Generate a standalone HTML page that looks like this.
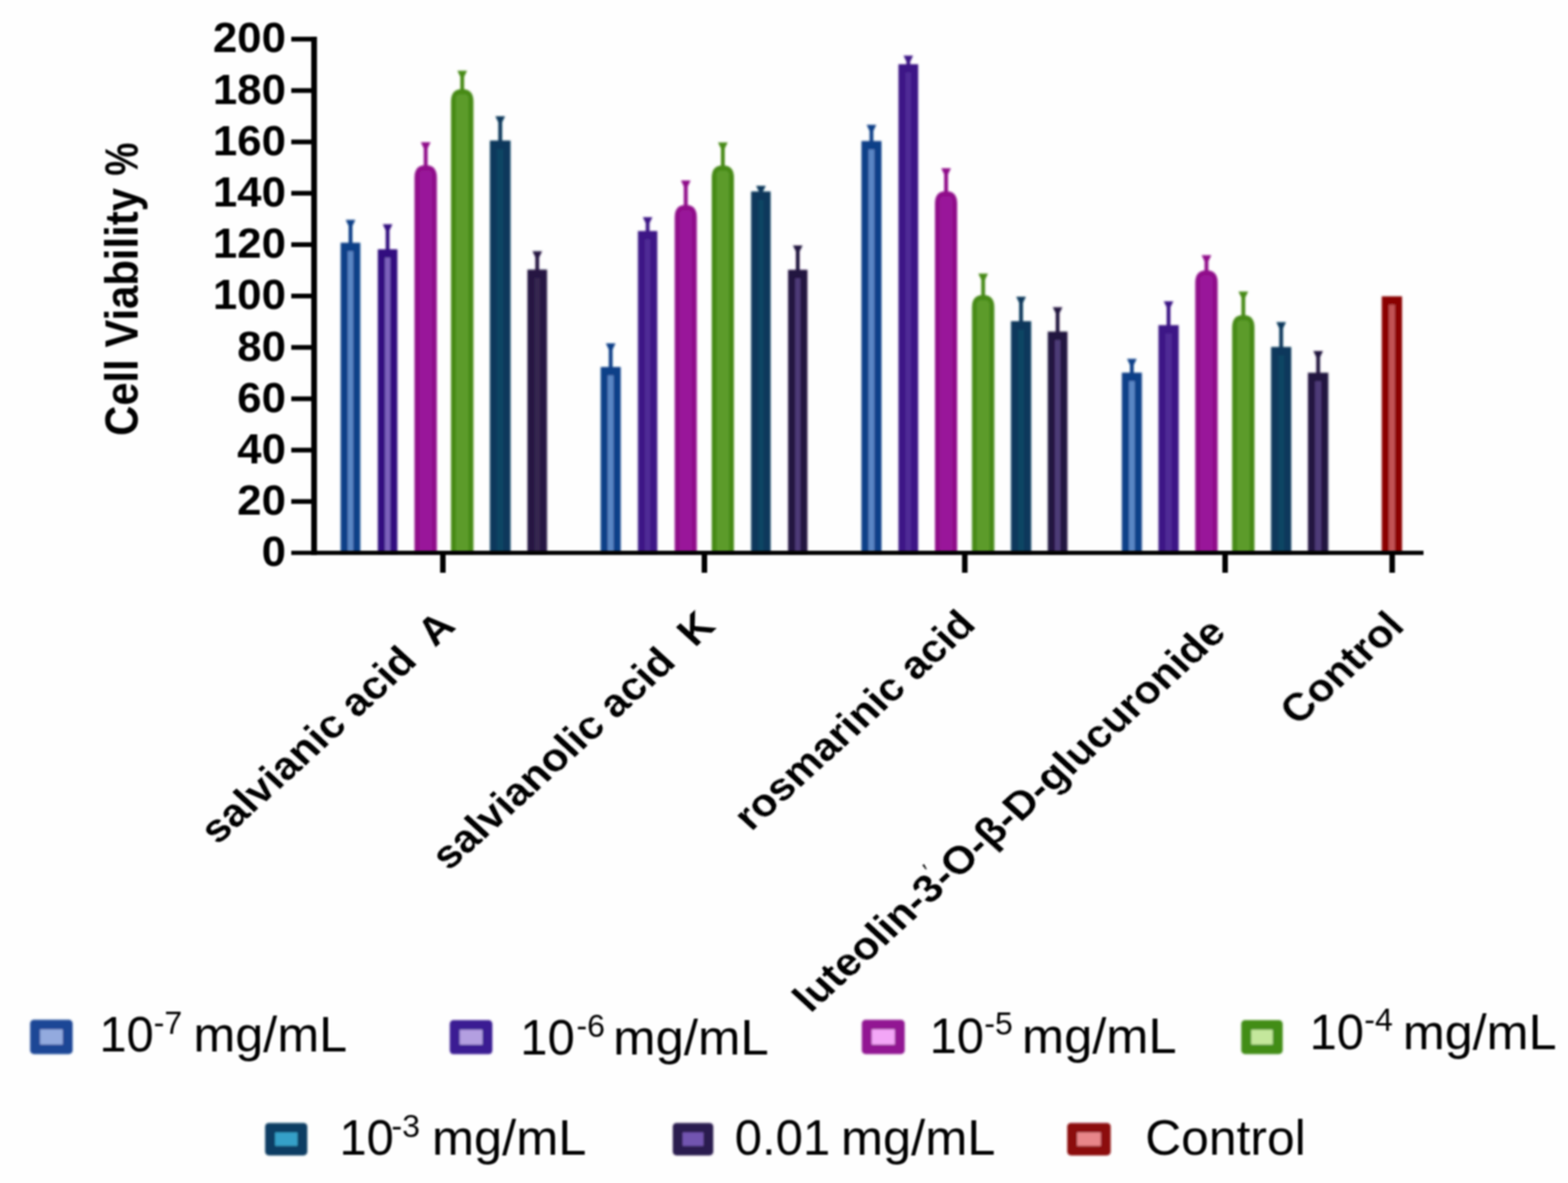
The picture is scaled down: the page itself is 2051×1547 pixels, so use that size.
<!DOCTYPE html>
<html lang="en"><head><meta charset="utf-8"><title>Cell Viability %</title>
<style>html,body{margin:0;padding:0;background:#fff;}body{width:2051px;height:1547px;overflow:hidden;}svg{display:block;}text{font-family:"Liberation Sans",Arial,Helvetica,sans-serif;fill:#000;}.b{font-weight:700;}</style></head><body>
<svg width="2051" height="1547" viewBox="0 0 2051 1547">
<defs><filter id="bl" x="-5%" y="-5%" width="110%" height="110%"><feGaussianBlur stdDeviation="1.55"/></filter><filter id="bt" x="-5%" y="-5%" width="110%" height="110%"><feGaussianBlur stdDeviation="1.25"/></filter></defs>
<rect width="2051" height="1547" fill="#fefefe"/>
<g filter="url(#bl)">
<rect x="456.0" y="290.2" width="5" height="30.2" fill="#0e3f88"/>
<path d="M452.2 287.5 h12.6 l-3.6 7.4 h-5.4 z" fill="#0e3f88"/>
<rect x="445.6" y="317.4" width="25.7" height="405.6" fill="#0e3f88"/>
<rect x="454.9" y="328.4" width="7.1" height="394.6" fill="#5a86c4"/>
<rect x="504.5" y="296.0" width="5" height="33.0" fill="#31107f"/>
<path d="M500.7 293.3 h12.6 l-3.6 7.4 h-5.4 z" fill="#31107f"/>
<rect x="494.2" y="326.0" width="25.6" height="397.0" fill="#31107f"/>
<rect x="503.5" y="337.0" width="7.0" height="386.0" fill="#7d62bc"/>
<rect x="554.3" y="188.8" width="5" height="30.2" fill="#900d8a"/>
<path d="M550.5 186.1 h12.6 l-3.6 7.4 h-5.4 z" fill="#900d8a"/>
<path d="M542.2 723.0 V232.1 Q542.2 216.0 556.8 216.0 Q571.4 216.0 571.4 232.1 V723.0 z" fill="#900d8a"/>
<rect x="548.7" y="223.0" width="16.2" height="500.0" rx="5" fill="#99199a"/>
<rect x="602.1" y="95.2" width="5" height="24.3" fill="#478a13"/>
<path d="M598.3 92.5 h12.6 l-3.6 7.4 h-5.4 z" fill="#478a13"/>
<path d="M589.9 723.0 V132.7 Q589.9 116.5 604.6 116.5 Q619.3 116.5 619.3 132.7 V723.0 z" fill="#478a13"/>
<rect x="596.4" y="123.5" width="16.4" height="599.5" rx="5" fill="#5c9b2c"/>
<rect x="651.8" y="154.7" width="5" height="32.1" fill="#07385b"/>
<path d="M648.0 152.0 h12.6 l-3.6 7.4 h-5.4 z" fill="#07385b"/>
<rect x="640.8" y="183.8" width="27.0" height="539.2" fill="#07385b"/>
<rect x="650.1" y="194.8" width="8.4" height="528.2" fill="#104564"/>
<rect x="700.2" y="331.2" width="5" height="24.3" fill="#261642"/>
<path d="M696.5 328.5 h12.6 l-3.6 7.4 h-5.4 z" fill="#261642"/>
<rect x="689.9" y="352.5" width="25.7" height="370.5" fill="#261642"/>
<rect x="699.2" y="363.5" width="7.1" height="359.5" fill="#34274f"/>
<rect x="796.3" y="451.7" width="5" height="31.2" fill="#0e3f88"/>
<path d="M792.5 449.0 h12.6 l-3.6 7.4 h-5.4 z" fill="#0e3f88"/>
<rect x="785.7" y="479.9" width="26.2" height="243.1" fill="#0e3f88"/>
<rect x="795.0" y="490.9" width="7.6" height="232.1" fill="#5a86c4"/>
<rect x="844.6" y="286.6" width="5" height="18.5" fill="#3d1686"/>
<path d="M840.8 283.9 h12.6 l-3.6 7.4 h-5.4 z" fill="#3d1686"/>
<rect x="834.4" y="302.1" width="25.4" height="420.9" fill="#3d1686"/>
<rect x="843.7" y="313.1" width="6.8" height="409.9" fill="#502c96"/>
<rect x="894.5" y="238.8" width="5" height="32.2" fill="#900d8a"/>
<path d="M890.7 236.1 h12.6 l-3.6 7.4 h-5.4 z" fill="#900d8a"/>
<path d="M882.6 723.0 V283.9 Q882.6 268.0 897.0 268.0 Q911.4 268.0 911.4 283.9 V723.0 z" fill="#900d8a"/>
<rect x="889.1" y="275.0" width="15.8" height="448.0" rx="5" fill="#99199a"/>
<rect x="943.0" y="189.0" width="5" height="30.3" fill="#478a13"/>
<path d="M939.2 186.3 h12.6 l-3.6 7.4 h-5.4 z" fill="#478a13"/>
<path d="M931.0 723.0 V232.3 Q931.0 216.3 945.5 216.3 Q960.0 216.3 960.0 232.3 V723.0 z" fill="#478a13"/>
<rect x="937.5" y="223.3" width="16.0" height="499.7" rx="5" fill="#5c9b2c"/>
<rect x="992.8" y="245.6" width="5" height="7.8" fill="#07385b"/>
<path d="M989.0 242.9 h12.6 l-3.6 7.4 h-5.4 z" fill="#07385b"/>
<rect x="982.5" y="250.4" width="25.5" height="472.6" fill="#07385b"/>
<rect x="991.8" y="261.4" width="6.9" height="461.6" fill="#104564"/>
<rect x="1041.0" y="323.6" width="5" height="32.2" fill="#231240"/>
<path d="M1037.2 320.9 h12.6 l-3.6 7.4 h-5.4 z" fill="#231240"/>
<rect x="1030.8" y="352.8" width="25.4" height="370.2" fill="#231240"/>
<rect x="1040.1" y="363.8" width="6.8" height="359.2" fill="#4d3a77"/>
<rect x="1137.4" y="166.0" width="5" height="21.4" fill="#0e3f88"/>
<path d="M1133.6 163.3 h12.6 l-3.6 7.4 h-5.4 z" fill="#0e3f88"/>
<rect x="1126.8" y="184.4" width="26.2" height="538.6" fill="#0e3f88"/>
<rect x="1136.1" y="195.4" width="7.6" height="527.6" fill="#5a86c4"/>
<rect x="1185.6" y="75.4" width="5" height="11.6" fill="#3d1686"/>
<path d="M1181.8 72.7 h12.6 l-3.6 7.4 h-5.4 z" fill="#3d1686"/>
<rect x="1175.2" y="84.0" width="25.8" height="639.0" fill="#3d1686"/>
<rect x="1184.5" y="95.0" width="7.2" height="628.0" fill="#502c96"/>
<rect x="1235.0" y="222.7" width="5" height="30.3" fill="#900d8a"/>
<path d="M1231.2 220.0 h12.6 l-3.6 7.4 h-5.4 z" fill="#900d8a"/>
<path d="M1223.0 723.0 V266.0 Q1223.0 250.0 1237.5 250.0 Q1252.0 250.0 1252.0 266.0 V723.0 z" fill="#900d8a"/>
<rect x="1229.5" y="257.0" width="16.0" height="466.0" rx="5" fill="#99199a"/>
<rect x="1283.5" y="360.5" width="5" height="28.3" fill="#478a13"/>
<path d="M1279.7 357.8 h12.6 l-3.6 7.4 h-5.4 z" fill="#478a13"/>
<path d="M1271.4 723.0 V401.9 Q1271.4 385.8 1286.0 385.8 Q1300.6 385.8 1300.6 401.9 V723.0 z" fill="#478a13"/>
<rect x="1277.9" y="392.8" width="16.2" height="330.2" rx="5" fill="#5c9b2c"/>
<rect x="1333.1" y="390.8" width="5" height="32.2" fill="#07385b"/>
<path d="M1329.3 388.1 h12.6 l-3.6 7.4 h-5.4 z" fill="#07385b"/>
<rect x="1322.4" y="420.0" width="26.4" height="303.0" fill="#07385b"/>
<rect x="1331.7" y="431.0" width="7.8" height="292.0" fill="#104564"/>
<rect x="1380.9" y="404.4" width="5" height="32.2" fill="#231240"/>
<path d="M1377.1 401.7 h12.6 l-3.6 7.4 h-5.4 z" fill="#231240"/>
<rect x="1370.5" y="433.6" width="25.8" height="289.4" fill="#231240"/>
<rect x="1379.8" y="444.6" width="7.2" height="278.4" fill="#4d3a77"/>
<rect x="1478.0" y="472.0" width="5" height="18.3" fill="#0e3f88"/>
<path d="M1474.2 469.3 h12.6 l-3.6 7.4 h-5.4 z" fill="#0e3f88"/>
<rect x="1467.4" y="487.3" width="26.2" height="235.7" fill="#0e3f88"/>
<rect x="1476.7" y="498.3" width="7.6" height="224.7" fill="#5a86c4"/>
<rect x="1526.0" y="396.6" width="5" height="31.6" fill="#3d1686"/>
<path d="M1522.2 393.9 h12.6 l-3.6 7.4 h-5.4 z" fill="#3d1686"/>
<rect x="1515.3" y="425.2" width="26.5" height="297.8" fill="#3d1686"/>
<rect x="1524.6" y="436.2" width="7.9" height="286.8" fill="#502c96"/>
<rect x="1575.6" y="336.5" width="5" height="20.1" fill="#900d8a"/>
<path d="M1571.8 333.8 h12.6 l-3.6 7.4 h-5.4 z" fill="#900d8a"/>
<path d="M1563.5 723.0 V369.7 Q1563.5 353.6 1578.1 353.6 Q1592.7 353.6 1592.7 369.7 V723.0 z" fill="#900d8a"/>
<rect x="1570.0" y="360.6" width="16.2" height="362.4" rx="5" fill="#99199a"/>
<rect x="1623.8" y="384.0" width="5" height="31.0" fill="#478a13"/>
<path d="M1620.0 381.3 h12.6 l-3.6 7.4 h-5.4 z" fill="#478a13"/>
<path d="M1611.7 723.0 V428.1 Q1611.7 412.0 1626.3 412.0 Q1640.9 412.0 1640.9 428.1 V723.0 z" fill="#478a13"/>
<rect x="1618.2" y="419.0" width="16.2" height="304.0" rx="5" fill="#5c9b2c"/>
<rect x="1673.3" y="424.0" width="5" height="32.7" fill="#07385b"/>
<path d="M1669.5 421.3 h12.6 l-3.6 7.4 h-5.4 z" fill="#07385b"/>
<rect x="1662.6" y="453.7" width="26.4" height="269.3" fill="#07385b"/>
<rect x="1671.9" y="464.7" width="7.8" height="258.3" fill="#104564"/>
<rect x="1721.7" y="461.7" width="5" height="28.7" fill="#231240"/>
<path d="M1717.9 459.0 h12.6 l-3.6 7.4 h-5.4 z" fill="#231240"/>
<rect x="1710.8" y="487.4" width="26.7" height="235.6" fill="#231240"/>
<rect x="1720.1" y="498.4" width="8.1" height="224.6" fill="#4d3a77"/>
<rect x="1807.4" y="387.5" width="26.5" height="335.5" fill="#8a0306"/>
<rect x="1816.7" y="398.5" width="7.9" height="324.5" fill="#c25255"/>
</g>
<g filter="url(#bt)" fill="#000">
<rect x="407.1" y="48.0" width="7.5" height="677.8"/>
<rect x="381.0" y="720.2" width="1481.0" height="5.5"/>
<rect x="381" y="48.1" width="29.8" height="6.2"/>
<rect x="381" y="115.3" width="29.8" height="6.2"/>
<rect x="381" y="182.5" width="29.8" height="6.2"/>
<rect x="381" y="249.6" width="29.8" height="6.2"/>
<rect x="381" y="316.8" width="29.8" height="6.2"/>
<rect x="381" y="384.0" width="29.8" height="6.2"/>
<rect x="381" y="451.2" width="29.8" height="6.2"/>
<rect x="381" y="518.4" width="29.8" height="6.2"/>
<rect x="381" y="585.5" width="29.8" height="6.2"/>
<rect x="381" y="652.7" width="29.8" height="6.2"/>
<rect x="575.7" y="723.0" width="7.2" height="26.0"/>
<rect x="917.8" y="723.0" width="7.2" height="26.0"/>
<rect x="1258.4" y="723.0" width="7.2" height="26.0"/>
<rect x="1598.9" y="723.0" width="7.2" height="26.0"/>
<rect x="1817.4" y="723.0" width="7.2" height="26.0"/>
</g>
<g class="b" filter="url(#bt)" font-size="55" text-anchor="end">
<text transform="translate(374.0 68.4) scale(1.04 1)">200</text>
<text transform="translate(374.0 135.6) scale(1.04 1)">180</text>
<text transform="translate(374.0 202.8) scale(1.04 1)">160</text>
<text transform="translate(374.0 269.9) scale(1.04 1)">140</text>
<text transform="translate(374.0 337.1) scale(1.04 1)">120</text>
<text transform="translate(374.0 404.3) scale(1.04 1)">100</text>
<text transform="translate(374.0 471.5) scale(1.04 1)">80</text>
<text transform="translate(374.0 538.7) scale(1.04 1)">60</text>
<text transform="translate(374.0 605.8) scale(1.04 1)">40</text>
<text transform="translate(374.0 673.0) scale(1.04 1)">20</text>
<text transform="translate(374.0 740.2) scale(1.04 1)">0</text>
</g>
<g class="b" filter="url(#bt)"><text font-size="61.5" transform="translate(179.5 570) rotate(-90) scale(0.889 1)">Cell Viability</text><text font-size="61.5" transform="translate(179.5 229.8) rotate(-90) scale(0.79 1)">%</text></g>
<g class="b" filter="url(#bt)" text-anchor="end" stroke="#fefefe" stroke-width="0.04">
<text xml:space="preserve" font-size="51" transform="translate(598.0 821.0) scale(1.1 1) rotate(-45) scale(1.02 1)">salvianic acid  A</text>
<text xml:space="preserve" font-size="51" transform="translate(938.0 821.0) scale(1.1 1) rotate(-45) scale(1.02 1)">salvianolic acid  K</text>
<text xml:space="preserve" font-size="50.49" transform="translate(1278.5 819.0) scale(1.1 1) rotate(-45) scale(1.02 1)">rosmarinic acid</text>
<text xml:space="preserve" font-size="50.49" transform="translate(1606.0 829.5) scale(1.1 1) rotate(-45) scale(1.02 1)">luteolin-3<tspan font-size="28" font-weight="400" dx="0.5" dy="-24">′</tspan><tspan dx="-4.5" dy="24">-O-β-D-glucuronide</tspan></text>
<text xml:space="preserve" font-size="50.235" transform="translate(1839.5 821.5) scale(1.1 1) rotate(-45) scale(1.02 1)">Control</text>
</g>
<g filter="url(#bl)">
<rect x="39.4" y="1333.6" width="55.6" height="44.8" rx="5" fill="#1c4796"/>
<rect x="52.4" y="1346.1" width="29.6" height="19.8" fill="#93aade"/>
<rect x="588.3" y="1334.0" width="55.7" height="44.6" rx="5" fill="#3a1a93"/>
<rect x="601.3" y="1346.5" width="29.7" height="19.6" fill="#b39fe0"/>
<rect x="1127.3" y="1333.6" width="56.1" height="44.8" rx="5" fill="#921593"/>
<rect x="1140.3" y="1346.1" width="30.1" height="19.8" fill="#f3a6f7"/>
<rect x="1623.6" y="1334.0" width="54.2" height="44.4" rx="5" fill="#428d16"/>
<rect x="1636.6" y="1346.5" width="28.2" height="19.4" fill="#c4e79c"/>
<rect x="346.8" y="1468.4" width="55.2" height="42.6" rx="5" fill="#0b3d63"/>
<rect x="359.8" y="1480.9" width="29.2" height="17.6" fill="#36a0c8"/>
<rect x="880.0" y="1468.4" width="53.0" height="42.6" rx="5" fill="#2b1a50"/>
<rect x="893.0" y="1480.9" width="27.0" height="17.6" fill="#7255b0"/>
<rect x="1396.0" y="1468.4" width="56.8" height="42.6" rx="5" fill="#8c0a0e"/>
<rect x="1409.0" y="1480.9" width="30.8" height="17.6" fill="#e8868a"/>
</g>
<g filter="url(#bt)" font-size="64">
<text x="130.0" y="1375.0">10</text>
<text x="201.0" y="1351.5" font-size="42">-7</text>
<text x="253.0" y="1375.0" textLength="201.0" lengthAdjust="spacingAndGlyphs">mg/mL</text>
<text x="680.6" y="1379.4">10</text>
<text x="754.0" y="1355.9" font-size="42">-6</text>
<text x="802.0" y="1379.4" textLength="203.5" lengthAdjust="spacingAndGlyphs">mg/mL</text>
<text x="1216.0" y="1376.7">10</text>
<text x="1287.4" y="1353.2" font-size="42">-5</text>
<text x="1336.8" y="1376.7" textLength="202.2" lengthAdjust="spacingAndGlyphs">mg/mL</text>
<text x="1713.0" y="1371.7">10</text>
<text x="1784.5" y="1348.2" font-size="42">-4</text>
<text x="1834.9" y="1371.7" textLength="201.1" lengthAdjust="spacingAndGlyphs">mg/mL</text>
<text x="444" y="1510">10</text><text x="512" y="1486.5" font-size="42">-3</text><text x="565" y="1510" textLength="202" lengthAdjust="spacingAndGlyphs">mg/mL</text>
<text x="961" y="1510" textLength="125" lengthAdjust="spacingAndGlyphs">0.01</text><text x="1100" y="1510" textLength="202" lengthAdjust="spacingAndGlyphs">mg/mL</text>
<text x="1498" y="1510" textLength="210" lengthAdjust="spacingAndGlyphs">Control</text>
</g>
</svg></body></html>
